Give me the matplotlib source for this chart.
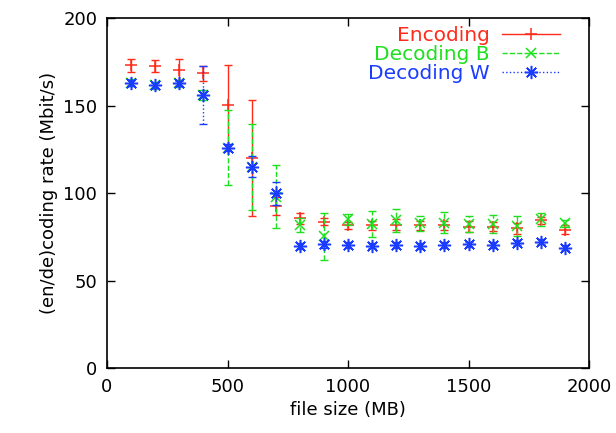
"""Encoding / decoding rate vs file size (gnuplot-style errorbar chart)."""

import matplotlib
matplotlib.use("Agg")
import matplotlib.pyplot as plt
from matplotlib.lines import Line2D

# file sizes (MB)
sizes = [100, 200, 300, 400, 500, 600, 700, 800, 900, 1000,
         1100, 1200, 1300, 1400, 1500, 1600, 1700, 1800, 1900]

enc = [173, 172.6, 170.5, 168.4, 150.5, 120, 92.6, 85.5, 83.6, 81.7,
       81.7, 82, 81.7, 81.7, 80.8, 80.8, 79.8, 84.6, 79.2]
enc_err = [3.8, 3.5, 6, 4.5, 23, 33, 5, 3, 2, 2,
           2.5, 3, 2.5, 2.5, 3, 2.5, 3, 2, 2.5]

dec_b = [163, 161.7, 162.7, 156, 126, 115, 98, 81.7, 75.4, 85,
         82.3, 84.6, 82.7, 83, 82.3, 82.3, 81, 85, 82.7]
dec_b_err = [2, 2, 2, 3, 21.4, 24.5, 18, 4, 13.5, 3,
             7.6, 6.6, 4.3, 6, 4.7, 5, 5.7, 3.7, 2]

dec_w = [163, 161.7, 162.7, 156, 126, 115, 99.8, 69.7, 70.8, 70.3,
         70, 70.3, 69.7, 70.3, 70.7, 70.3, 71.6, 72.2, 68.7]
dec_w_err = [1.5, 1.5, 1.5, 16.6, 2, 6, 6.7, 1.5, 2, 1.5,
             1.5, 1.5, 1.5, 1.5, 1.5, 1.5, 1.5, 1.5, 1.5]

RED = "#ff2a1a"
GREEN = "#1ee01e"
BLUE = "#1a3cff"
ASTERISK = (8, 2, 0)

plt.rcParams["font.family"] = "DejaVu Sans"
plt.rcParams["font.size"] = 13

fig = plt.figure(figsize=(6.16, 4.33), dpi=100)
ax = fig.add_axes([0.1737, 0.15, 0.7825, 0.808])

series = [
    ("Encoding", enc, enc_err, RED, "+", "-", 8.5),
    ("Decoding B", dec_b, dec_b_err, GREEN, "x", "--", 7),
    ("Decoding W", dec_w, dec_w_err, BLUE, ASTERISK, ":", 9.5),
]

handles = []
for z, (label, vals, errs, color, marker, ls, ms) in enumerate(series):
    eb = ax.errorbar(sizes, vals, yerr=errs, fmt="none", ecolor=color,
                     elinewidth=1.0, capsize=3, capthick=1.0, zorder=2 + z)
    eb[2][0].set_linestyle(ls)
    ax.plot(sizes, vals, linestyle="none", marker=marker, markersize=ms,
            markeredgewidth=1.1, color=color, zorder=2 + z)
    handles.append(Line2D([], [], color=color, linestyle=ls, linewidth=1.0,
                          marker=marker, markersize=ms, markeredgewidth=1.1))

leg = ax.legend(handles, [s[0] for s in series], loc="upper right",
                bbox_to_anchor=(0.957, 1.0), frameon=False, markerfirst=False,
                handlelength=2.9, handletextpad=0.6, labelspacing=0.0,
                borderaxespad=0.0, fontsize=14.5)
for text, s in zip(leg.get_texts(), series):
    text.set_color(s[3])

ax.set_xlim(0, 2000)
ax.set_ylim(0, 200)
ax.set_xticks([0, 500, 1000, 1500, 2000])
ax.set_yticks([0, 50, 100, 150, 200])
ax.tick_params(direction="in", length=6, width=1, top=True, right=True, pad=7)
for spine in ax.spines.values():
    spine.set_linewidth(1.2)

ax.set_xlabel("file size (MB)")
ax.set_ylabel("(en/de)coding rate (Mbit/s)")

fig.savefig("out.png", dpi=100)
